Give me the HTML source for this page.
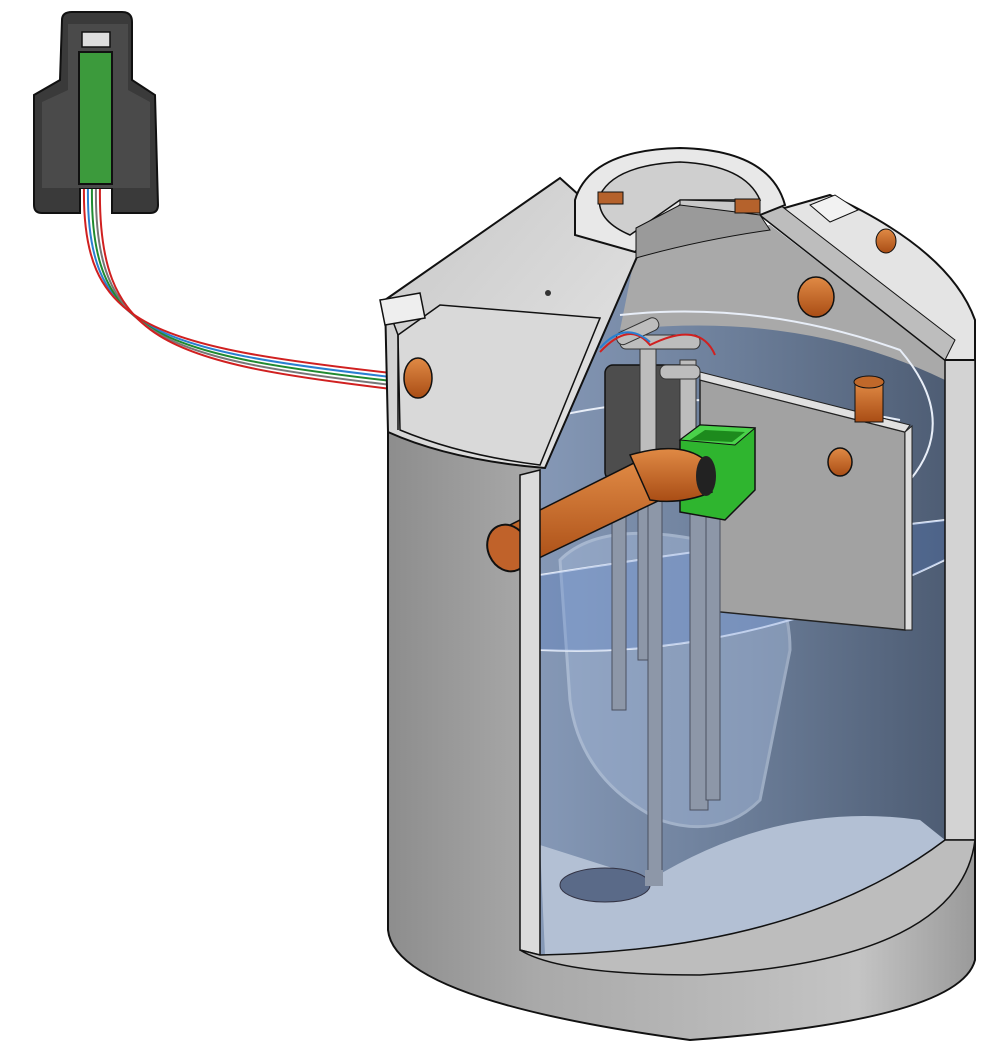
<!DOCTYPE html>
<html><head><meta charset="utf-8"><style>html,body{margin:0;padding:0;background:#fff}svg{display:block}</style></head>
<body>
<svg width="1000" height="1060" viewBox="0 0 1000 1060" xmlns="http://www.w3.org/2000/svg">
<defs>
<linearGradient id="body" x1="0" x2="1" y1="0" y2="0">
<stop offset="0" stop-color="#8d8d8d"/><stop offset="0.25" stop-color="#a9a9a9"/><stop offset="0.8" stop-color="#c4c4c4"/><stop offset="1" stop-color="#9a9a9a"/></linearGradient>
<linearGradient id="inner" x1="0" x2="1" y1="0" y2="0">
<stop offset="0" stop-color="#8598b6"/><stop offset="0.5" stop-color="#6b7d98"/><stop offset="1" stop-color="#4e5d74"/></linearGradient>
<linearGradient id="dome" x1="0" x2="1" y1="0" y2="1">
<stop offset="0" stop-color="#c8c8c8"/><stop offset="1" stop-color="#e6e6e6"/></linearGradient>
<linearGradient id="pipe" x1="0" x2="0" y1="0" y2="1">
<stop offset="0" stop-color="#e08a45"/><stop offset="1" stop-color="#a94d15"/></linearGradient>
</defs>

<!-- cables -->
<g fill="none" stroke-width="2">
<path d="M88,185 C85,330 150,350 400,378" stroke="#2a7fd0"/>
<path d="M92,185 C89,334 154,354 400,382" stroke="#208a30"/>
<path d="M96,185 C93,338 158,358 400,386" stroke="#777"/>
<path d="M100,185 C97,342 162,362 400,390" stroke="#d02020"/>
<path d="M84,185 C81,326 146,346 400,374" stroke="#d02020"/>
</g>

<!-- controller -->
<path d="M62,20 Q62,12 72,12 L122,12 Q132,12 132,22 L132,80 L155,95 L158,205 Q158,213 150,213 L112,213 L112,188 L80,188 L80,213 L42,213 Q34,213 34,205 L34,95 L60,80 Z" fill="#3a3a3a" stroke="#111" stroke-width="2"/>
<path d="M68,24 L128,24 L128,90 L150,102 L150,188 L42,188 L42,102 L68,90 Z" fill="#4a4a4a"/>
<rect x="79" y="52" width="33" height="132" fill="#3c9a3c" stroke="#111" stroke-width="2"/>
<rect x="82" y="32" width="28" height="15" fill="#ddd" stroke="#111" stroke-width="1.5"/>

<!-- tank body -->
<path d="M388,300 L388,930 Q395,1000 690,1040 Q960,1020 975,960 L975,330 Z" fill="url(#body)" stroke="#111" stroke-width="2"/>

<!-- interior -->
<path d="M540,470 L635,255 L770,225 L945,360 L945,840 Q800,950 540,955 Z" fill="url(#inner)"/>
<path d="M635,255 L770,225 L945,360 L945,380 Q800,310 620,330 Z" fill="#a9a9a9"/>
<!-- floor -->
<path d="M540,845 L545,955 Q800,950 945,840 L920,820 Q780,800 650,880 Z" fill="#b3c0d4"/>
<!-- ghost blob -->
<path d="M560,560 Q600,520 700,540 Q790,560 790,650 L760,800 Q720,840 660,820 Q580,780 570,700 Z" fill="#9fb3d3" opacity="0.55" stroke="#c8d6ea" stroke-width="3"/>
<!-- water level ellipses -->
<g fill="none" stroke="#e8eef8" stroke-width="2">
<path d="M540,420 Q700,380 900,420"/>
<path d="M540,575 Q730,545 945,520"/>
<path d="M540,650 Q740,660 945,560"/>
<path d="M620,315 Q760,300 900,350 Q960,420 910,480"/>
</g>
<path d="M540,575 Q750,540 945,520 L945,560 Q750,660 540,650 Z" fill="#4a78c8" opacity="0.25"/>

<!-- baffle plate -->
<path d="M700,380 L905,432 L905,630 L700,610 Z" fill="#a2a2a2" stroke="#222" stroke-width="1.5"/>
<path d="M700,372 L910,425 L905,432 L700,380 Z" fill="#e0e0e0" stroke="#222" stroke-width="1"/>
<path d="M905,432 L912,426 L912,630 L905,630 Z" fill="#ddd" stroke="#222"/>
<ellipse cx="840" cy="462" rx="12" ry="14" fill="url(#pipe)" stroke="#111" stroke-width="1.5"/>
<rect x="855" y="382" width="28" height="40" fill="url(#pipe)" stroke="#111"/>
<ellipse cx="869" cy="382" rx="15" ry="6" fill="#c0682a" stroke="#111"/>
<ellipse cx="816" cy="297" rx="18" ry="20" fill="url(#pipe)" stroke="#111" stroke-width="1.5"/>

<!-- vertical pipes -->
<g fill="#8d97a8" stroke="#4a5060" stroke-width="1">
<rect x="612" y="480" width="14" height="230"/>
<rect x="638" y="480" width="12" height="180"/>
<rect x="648" y="470" width="14" height="410"/>
<rect x="690" y="470" width="18" height="340"/>
<rect x="706" y="480" width="14" height="320"/>
</g>
<ellipse cx="605" cy="885" rx="45" ry="17" fill="#5a6a88" stroke="#334" />
<rect x="645" y="870" width="18" height="16" fill="#8d97a8"/>
<!-- pump -->
<rect x="605" y="365" width="90" height="115" rx="8" fill="#4d4d4d" stroke="#111" stroke-width="1.5"/>
<g fill="#bdbdbd" stroke="#333">
<rect x="640" y="345" width="16" height="110"/>
<rect x="680" y="360" width="16" height="80"/>
<rect x="620" y="335" width="80" height="14" rx="6"/>
<rect x="660" y="365" width="40" height="14" rx="6"/>
<rect x="615" y="325" width="45" height="13" rx="6" transform="rotate(-25 637 331)"/>
</g>
<path d="M600,352 Q630,320 650,345 Q700,320 715,355" fill="none" stroke="#d02020" stroke-width="2"/>
<path d="M600,348 Q625,320 650,342" fill="none" stroke="#2a7fd0" stroke-width="2"/>

<!-- green box -->
<path d="M680,440 L700,425 L755,428 L755,490 L725,520 L680,512 Z" fill="#2fb52f" stroke="#111" stroke-width="1.5"/>
<path d="M680,440 L700,425 L755,428 L735,445 Z" fill="#4ad24a" stroke="#111"/>
<path d="M690,440 L705,430 L745,432 L732,442 Z" fill="#1d8a1d"/>

<!-- orange pipe -->
<path d="M500,530 L640,460 L660,500 L518,568 Z" fill="url(#pipe)" stroke="#111" stroke-width="1.5"/>
<path d="M630,455 Q680,440 705,460 L712,492 Q680,505 650,500 Z" fill="url(#pipe)" stroke="#111" stroke-width="1.5"/>
<ellipse cx="508" cy="548" rx="20" ry="24" transform="rotate(-25 508 548)" fill="#c0622a" stroke="#111" stroke-width="2"/>
<ellipse cx="706" cy="476" rx="10" ry="20" fill="#222"/>

<!-- cut faces -->
<path d="M520,475 L540,470 L540,955 L520,950 Z" fill="#dcdcdc" stroke="#111" stroke-width="1.5"/>
<path d="M945,360 L975,360 L975,840 L945,840 Z" fill="#d3d3d3" stroke="#111" stroke-width="1.5"/>
<path d="M520,950 L540,955 Q800,950 945,840 L975,840 Q960,960 700,975 Q560,975 520,950 Z" fill="#bdbdbd" stroke="#111" stroke-width="1.5"/>

<!-- dome left -->
<path d="M385,300 L560,178 L640,250 L545,468 Q450,460 388,432 Z" fill="url(#dome)" stroke="#111" stroke-width="2"/>
<path d="M398,335 L440,305 L600,318 L540,465 Q460,455 400,430 Z" fill="#d9d9d9" stroke="#111" stroke-width="1.5"/>
<path d="M385,300 L398,335 L398,430" fill="none" stroke="#111" stroke-width="1.5"/>
<path d="M380,300 L420,293 L425,318 L385,325 Z" fill="#eee" stroke="#111" stroke-width="1.5"/>
<ellipse cx="418" cy="378" rx="14" ry="20" fill="url(#pipe)" stroke="#111" stroke-width="1.5"/>
<!-- dome right -->
<path d="M760,215 L830,195 Q950,250 975,320 L975,360 L945,360 Z" fill="#e4e4e4" stroke="#111" stroke-width="2"/>
<path d="M760,215 L780,205 L955,340 L945,360 Z" fill="#bdbdbd" stroke="#111" stroke-width="1"/>
<path d="M810,205 L835,195 L858,210 L830,222 Z" fill="#f2f2f2" stroke="#111"/>
<ellipse cx="886" cy="241" rx="10" ry="12" fill="url(#pipe)" stroke="#111"/>
<!-- manhole -->
<path d="M575,200 Q590,150 680,148 Q770,150 785,205 L760,215 L680,205 L635,252 L575,235 Z" fill="#e8e8e8" stroke="#111" stroke-width="2"/>
<path d="M600,195 Q615,165 680,162 Q745,165 760,200 L680,200 L630,235 Q595,220 600,195 Z" fill="#cfcfcf" stroke="#111" stroke-width="1.5"/>
<path d="M680,200 L760,202 L760,218 L680,212 Z" fill="#c8c8c8" stroke="#111"/>
<path d="M636,228 L680,205 L760,215 L770,230 Q700,240 636,258 Z" fill="#9a9a9a" stroke="#111"/>
<rect x="598" y="192" width="25" height="12" fill="#b5622c" stroke="#111"/>
<rect x="735" y="199" width="25" height="14" fill="#b5622c" stroke="#111"/>
<circle cx="548" cy="293" r="3" fill="#333"/>
</svg>
</body></html>
